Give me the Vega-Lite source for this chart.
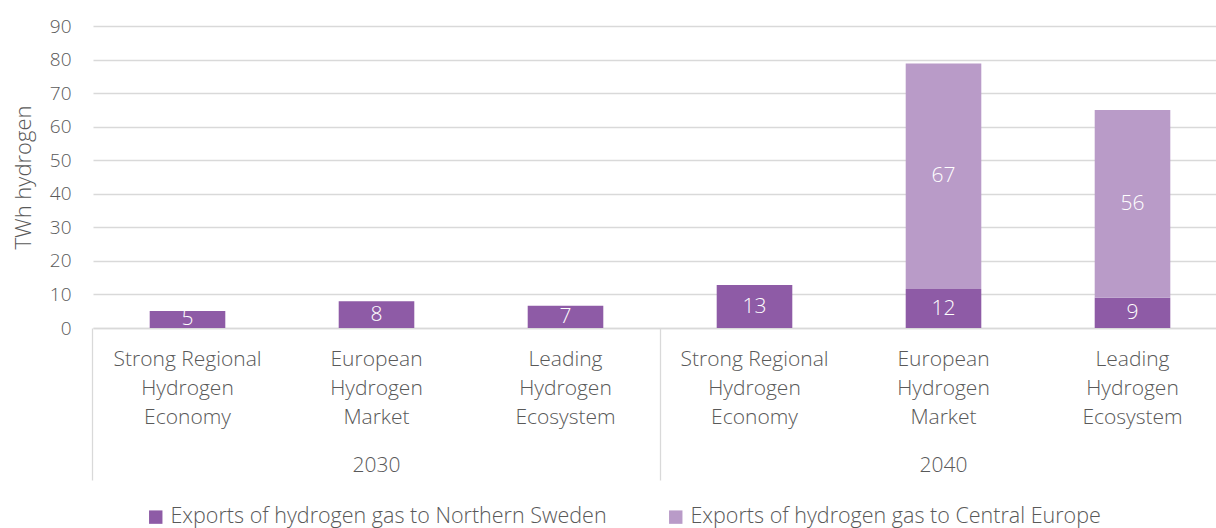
{
  "$schema": "https://vega.github.io/schema/vega-lite/v6.json",
  "autosize": "none",
  "width": 1123,
  "height": 302,
  "padding": {"left": 93, "top": 26, "right": 0, "bottom": 200},
  "background": "white",
  "config": {
    "view": {"stroke": null},
    "font": "Open Sans",
    "axis": {"labelFont": "Open Sans", "labelFontWeight": 300, "titleFont": "Open Sans", "titleFontWeight": 300, "labelColor": "#595959", "titleColor": "#595959"},
    "legend": {"labelFont": "Open Sans", "labelFontWeight": 300}
  },
  "data": {
    "values": [
      {"cat": "2030 Strong Regional Hydrogen Economy", "year": "2030", "series": "Exports of hydrogen gas to Northern Sweden", "value": 5.1},
      {"cat": "2030 European Hydrogen Market", "year": "2030", "series": "Exports of hydrogen gas to Northern Sweden", "value": 8.0},
      {"cat": "2030 Leading Hydrogen Ecosystem", "year": "2030", "series": "Exports of hydrogen gas to Northern Sweden", "value": 6.6},
      {"cat": "2040 Strong Regional Hydrogen Economy", "year": "2040", "series": "Exports of hydrogen gas to Northern Sweden", "value": 12.8},
      {"cat": "2040 European Hydrogen Market", "year": "2040", "series": "Exports of hydrogen gas to Northern Sweden", "value": 11.6},
      {"cat": "2040 European Hydrogen Market", "year": "2040", "series": "Exports of hydrogen gas to Central Europe", "value": 67.2},
      {"cat": "2040 Leading Hydrogen Ecosystem", "year": "2040", "series": "Exports of hydrogen gas to Northern Sweden", "value": 9.0},
      {"cat": "2040 Leading Hydrogen Ecosystem", "year": "2040", "series": "Exports of hydrogen gas to Central Europe", "value": 56.0}
    ]
  },
  "transform": [
    {"stack": "value", "groupby": ["cat"], "sort": [{"field": "series", "order": "descending"}], "as": ["v0", "v1"]},
    {"calculate": "(datum.v0 + datum.v1) / 2", "as": "mid"}
  ],
  "layer": [
    {
      "mark": {"type": "bar"},
      "encoding": {
        "x": {
          "field": "cat", "type": "nominal",
          "sort": ["2030 Strong Regional Hydrogen Economy", "2030 European Hydrogen Market", "2030 Leading Hydrogen Ecosystem", "2040 Strong Regional Hydrogen Economy", "2040 European Hydrogen Market", "2040 Leading Hydrogen Ecosystem"],
          "scale": {"range": [0, 1134], "paddingInner": 0.6, "paddingOuter": 0.3},
          "axis": {
            "orient": "bottom",
            "title": null, "labelAngle": 0, "ticks": false, "grid": false,
            "domain": true, "domainColor": "#d9d9d9", "domainWidth": 1.3,
            "labelFontSize": 21, "labelLineHeight": 29, "labelPadding": 20,
            "labelExpr": "indexof(datum.value, 'Strong') >= 0 ? ['Strong Regional', 'Hydrogen', 'Economy'] : indexof(datum.value, 'European') >= 0 ? ['European', 'Hydrogen', 'Market'] : ['Leading', 'Hydrogen', 'Ecosystem']"
          }
        },
        "y": {
          "field": "v1", "type": "quantitative",
          "scale": {"domain": [0, 90]},
          "axis": {
            "title": "TWh hydrogen", "values": [0, 10, 20, 30, 40, 50, 60, 70, 80, 90],
            "ticks": false, "domain": false, "grid": true, "gridColor": "#d9d9d9", "gridWidth": 1.3,
            "labelFontSize": 19, "labelPadding": 22, "titleFontSize": 22, "titlePadding": 14
          }
        },
        "y2": {"field": "v0"},
        "color": {
          "field": "series", "type": "nominal",
          "sort": ["Exports of hydrogen gas to Northern Sweden", "Exports of hydrogen gas to Central Europe"],
          "scale": {"domain": ["Exports of hydrogen gas to Northern Sweden", "Exports of hydrogen gas to Central Europe"], "range": ["#8e5ba6", "#b99bc8"]},
          "legend": {
            "title": null, "orient": "none", "direction": "horizontal", "legendX": 52, "legendY": 480,
            "symbolType": "square", "symbolSize": 180, "symbolStrokeWidth": 0, "symbolOpacity": 1,
            "labelFontSize": 21.5, "labelColor": "#595959", "labelLimit": 600, "columnPadding": 58, "labelOffset": 4
          }
        }
      }
    },
    {
      "mark": {"type": "text", "color": "white", "fontSize": 21, "fontWeight": 300, "baseline": "middle"},
      "encoding": {
        "x": {
          "field": "cat", "type": "nominal",
          "sort": ["2030 Strong Regional Hydrogen Economy", "2030 European Hydrogen Market", "2030 Leading Hydrogen Ecosystem", "2040 Strong Regional Hydrogen Economy", "2040 European Hydrogen Market", "2040 Leading Hydrogen Ecosystem"],
          "axis": {
            "orient": "bottom",
            "title": null, "labelAngle": 0, "ticks": false, "grid": false, "domain": false,
            "values": ["2030 European Hydrogen Market", "2040 European Hydrogen Market"],
            "labelFontSize": 21, "labelPadding": 126,
            "labelExpr": "slice(datum.value, 0, 4)"
          }
        },
        "y": {
          "field": "mid", "type": "quantitative",
          "axis": {
            "title": "TWh hydrogen", "values": [0, 10, 20, 30, 40, 50, 60, 70, 80, 90],
            "ticks": false, "domain": false, "grid": true, "gridColor": "#d9d9d9", "gridWidth": 1.3,
            "labelFontSize": 19, "labelPadding": 22, "titleFontSize": 22, "titlePadding": 14
          }
        },
        "text": {"field": "value", "type": "quantitative", "format": ".0f"}
      }
    },
    {
      "mark": {"type": "rule", "strokeOpacity": 0},
      "encoding": {
        "x": {
          "field": "cat", "type": "nominal",
          "sort": ["2030 Strong Regional Hydrogen Economy", "2030 European Hydrogen Market", "2030 Leading Hydrogen Ecosystem", "2040 Strong Regional Hydrogen Economy", "2040 European Hydrogen Market", "2040 Leading Hydrogen Ecosystem"],
          "axis": {
            "orient": "bottom",
            "title": null, "labels": false, "grid": false, "domain": false,
            "values": ["2030 Strong Regional Hydrogen Economy", "2040 Strong Regional Hydrogen Economy"],
            "bandPosition": -0.75, "ticks": true, "tickSize": 152, "tickColor": "#d9d9d9", "tickWidth": 1.3
          }
        }
      }
    }
  ],
  "resolve": {"axis": {"x": "independent"}}
}
